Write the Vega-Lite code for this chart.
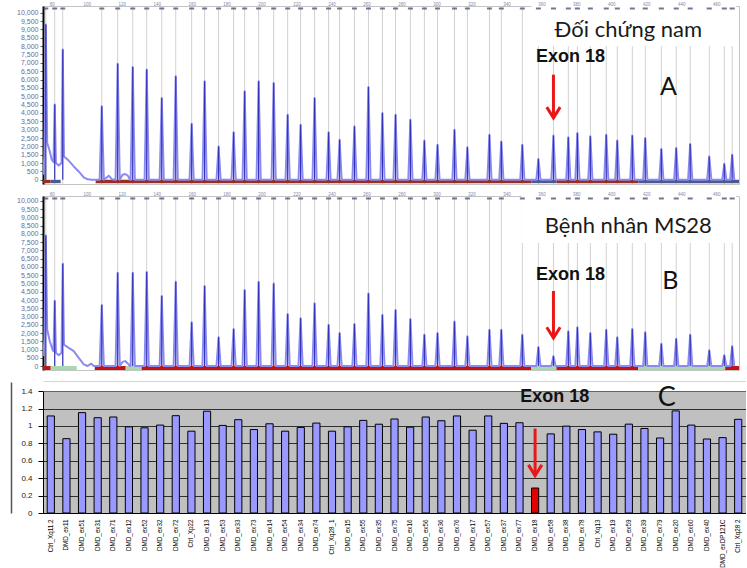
{
"$schema": "https://vega.github.io/schema/vega-lite/v6.json",
"padding": {"left": 11, "top": 0, "right": 0, "bottom": 0},
"bounds": "flush",
"spacing": 12,
"config": {"view": {"stroke": null}, "font": "Liberation Sans"},
"datasets": {
"tr": [
{"p":"A","x":75.2,"y":300},{"p":"A","x":75.8,"y":1500},{"p":"A","x":76.6,"y":9300,"k":"p"},{"p":"A","x":77.4,"y":2200},{"p":"A","x":78.9,"y":1700},{"p":"A","x":80.0,"y":1200},{"p":"A","x":81.0,"y":1050},{"p":"A","x":81.7,"y":4500,"k":"p"},{"p":"A","x":82.4,"y":1000},{"p":"A","x":84.0,"y":850},{"p":"A","x":85.6,"y":1000},{"p":"A","x":86.3,"y":7800,"k":"p"},{"p":"A","x":87.0,"y":1400},{"p":"A","x":89.7,"y":1150},{"p":"A","x":92.6,"y":800},{"p":"A","x":95.4,"y":500},{"p":"A","x":98.3,"y":150},{"p":"A","x":100.5,"y":30},{"p":"A","x":103,"y":0},
{"p":"A","x":107.4,"y":0},{"p":"A","x":108.6,"y":4400,"k":"p"},{"p":"A","x":109.8,"y":0},{"p":"A","x":112.6,"y":250},{"p":"A","x":114.5,"y":30},
{"p":"A","x":116.5,"y":0},{"p":"A","x":117.7,"y":6950,"k":"p"},{"p":"A","x":118.9,"y":0},{"p":"A","x":120.5,"y":300},{"p":"A","x":122,"y":350},{"p":"A","x":123.5,"y":250},{"p":"A","x":124.8,"y":0},
{"p":"A","x":125.1,"y":0},{"p":"A","x":126.3,"y":6750,"k":"p"},{"p":"A","x":127.5,"y":0},
{"p":"A","x":133.1,"y":0},{"p":"A","x":134.3,"y":6600,"k":"p"},{"p":"A","x":135.5,"y":0},
{"p":"A","x":141.7,"y":0},{"p":"A","x":142.9,"y":4900,"k":"p"},{"p":"A","x":144.1,"y":0},
{"p":"A","x":149.7,"y":0},{"p":"A","x":150.9,"y":6200,"k":"p"},{"p":"A","x":152.1,"y":0},
{"p":"A","x":158.8,"y":0},{"p":"A","x":160.0,"y":3350,"k":"p"},{"p":"A","x":161.2,"y":0},
{"p":"A","x":166.2,"y":0},{"p":"A","x":167.4,"y":5900,"k":"p"},{"p":"A","x":168.6,"y":0},
{"p":"A","x":174.2,"y":0},{"p":"A","x":175.4,"y":2000,"k":"p"},{"p":"A","x":176.6,"y":0},
{"p":"A","x":182.8,"y":0},{"p":"A","x":184.0,"y":2850,"k":"p"},{"p":"A","x":185.2,"y":0},
{"p":"A","x":189.1,"y":0},{"p":"A","x":190.3,"y":5300,"k":"p"},{"p":"A","x":191.5,"y":0},
{"p":"A","x":197.1,"y":0},{"p":"A","x":198.3,"y":5900,"k":"p"},{"p":"A","x":199.5,"y":0},
{"p":"A","x":205.7,"y":0},{"p":"A","x":206.9,"y":5800,"k":"p"},{"p":"A","x":208.1,"y":0},
{"p":"A","x":213.7,"y":0},{"p":"A","x":214.9,"y":3900,"k":"p"},{"p":"A","x":216.1,"y":0},
{"p":"A","x":221.1,"y":0},{"p":"A","x":222.3,"y":3300,"k":"p"},{"p":"A","x":223.5,"y":0},
{"p":"A","x":229.1,"y":0},{"p":"A","x":230.3,"y":4900,"k":"p"},{"p":"A","x":231.5,"y":0},
{"p":"A","x":237.1,"y":0},{"p":"A","x":238.3,"y":2850,"k":"p"},{"p":"A","x":239.5,"y":0},
{"p":"A","x":243.4,"y":0},{"p":"A","x":244.6,"y":2400,"k":"p"},{"p":"A","x":245.8,"y":0},
{"p":"A","x":251.9,"y":0},{"p":"A","x":253.1,"y":3200,"k":"p"},{"p":"A","x":254.3,"y":0},
{"p":"A","x":259.9,"y":0},{"p":"A","x":261.1,"y":5550,"k":"p"},{"p":"A","x":262.3,"y":0},
{"p":"A","x":267.9,"y":0},{"p":"A","x":269.1,"y":4000,"k":"p"},{"p":"A","x":270.3,"y":0},
{"p":"A","x":275.4,"y":0},{"p":"A","x":276.6,"y":3900,"k":"p"},{"p":"A","x":277.8,"y":0},
{"p":"A","x":283.9,"y":0},{"p":"A","x":285.1,"y":3600,"k":"p"},{"p":"A","x":286.3,"y":0},
{"p":"A","x":291.9,"y":0},{"p":"A","x":293.1,"y":2350,"k":"p"},{"p":"A","x":294.3,"y":0},
{"p":"A","x":299.4,"y":0},{"p":"A","x":300.6,"y":2100,"k":"p"},{"p":"A","x":301.8,"y":0},
{"p":"A","x":309.1,"y":0},{"p":"A","x":310.3,"y":3000,"k":"p"},{"p":"A","x":311.5,"y":0},
{"p":"A","x":316.5,"y":0},{"p":"A","x":317.7,"y":1950,"k":"p"},{"p":"A","x":318.9,"y":0},
{"p":"A","x":329.1,"y":0},{"p":"A","x":330.3,"y":2700,"k":"p"},{"p":"A","x":331.5,"y":0},
{"p":"A","x":335.9,"y":0},{"p":"A","x":337.1,"y":2300,"k":"p"},{"p":"A","x":338.3,"y":0},
{"p":"A","x":347.9,"y":0},{"p":"A","x":349.1,"y":2100,"k":"p"},{"p":"A","x":350.3,"y":0},
{"p":"A","x":357.1,"y":0},{"p":"A","x":358.3,"y":1250,"k":"p"},{"p":"A","x":359.5,"y":0},
{"p":"A","x":365.7,"y":0},{"p":"A","x":366.9,"y":2650,"k":"p"},{"p":"A","x":368.1,"y":0},
{"p":"A","x":374.2,"y":0},{"p":"A","x":375.4,"y":2550,"k":"p"},{"p":"A","x":376.6,"y":0},
{"p":"A","x":379.4,"y":0},{"p":"A","x":380.6,"y":2800,"k":"p"},{"p":"A","x":381.8,"y":0},
{"p":"A","x":386.8,"y":0},{"p":"A","x":388.0,"y":2600,"k":"p"},{"p":"A","x":389.2,"y":0},
{"p":"A","x":395.9,"y":0},{"p":"A","x":397.1,"y":2700,"k":"p"},{"p":"A","x":398.3,"y":0},
{"p":"A","x":402.2,"y":0},{"p":"A","x":403.4,"y":2350,"k":"p"},{"p":"A","x":404.6,"y":0},
{"p":"A","x":410.8,"y":0},{"p":"A","x":412.0,"y":2650,"k":"p"},{"p":"A","x":413.2,"y":0},
{"p":"A","x":418.2,"y":0},{"p":"A","x":419.4,"y":2500,"k":"p"},{"p":"A","x":420.6,"y":0},
{"p":"A","x":427.4,"y":0},{"p":"A","x":428.6,"y":1850,"k":"p"},{"p":"A","x":429.8,"y":0},
{"p":"A","x":435.9,"y":0},{"p":"A","x":437.1,"y":1900,"k":"p"},{"p":"A","x":438.3,"y":0},
{"p":"A","x":443.9,"y":0},{"p":"A","x":445.1,"y":2150,"k":"p"},{"p":"A","x":446.3,"y":0},
{"p":"A","x":454.8,"y":0},{"p":"A","x":456.0,"y":1400,"k":"p"},{"p":"A","x":457.2,"y":0},
{"p":"A","x":463.4,"y":0},{"p":"A","x":464.6,"y":960,"k":"p"},{"p":"A","x":465.8,"y":0},
{"p":"A","x":467.9,"y":0},{"p":"A","x":469.1,"y":1500,"k":"p"},{"p":"A","x":470.3,"y":0},
{"p":"B","x":75.2,"y":600},{"p":"B","x":75.8,"y":1600},{"p":"B","x":76.6,"y":7900,"k":"p"},{"p":"B","x":77.4,"y":2200},{"p":"B","x":78.9,"y":1500},{"p":"B","x":80.6,"y":950},{"p":"B","x":81.0,"y":900},{"p":"B","x":81.7,"y":3950,"k":"p"},{"p":"B","x":82.4,"y":800},{"p":"B","x":84.0,"y":650},{"p":"B","x":85.6,"y":800},{"p":"B","x":86.3,"y":6200,"k":"p"},{"p":"B","x":87.0,"y":1300},{"p":"B","x":89.7,"y":1100},{"p":"B","x":92.6,"y":900},{"p":"B","x":95.4,"y":500},{"p":"B","x":98.3,"y":100},{"p":"B","x":100.5,"y":0},{"p":"B","x":102.5,"y":150},{"p":"B","x":104,"y":0},
{"p":"B","x":107.4,"y":0},{"p":"B","x":108.6,"y":3700,"k":"p"},{"p":"B","x":109.8,"y":0},
{"p":"B","x":116.5,"y":0},{"p":"B","x":117.7,"y":5650,"k":"p"},{"p":"B","x":118.9,"y":0},{"p":"B","x":120.5,"y":250},{"p":"B","x":122,"y":300},{"p":"B","x":123.5,"y":150},{"p":"B","x":124.8,"y":0},
{"p":"B","x":125.1,"y":0},{"p":"B","x":126.3,"y":5650,"k":"p"},{"p":"B","x":127.5,"y":0},
{"p":"B","x":133.1,"y":0},{"p":"B","x":134.3,"y":5700,"k":"p"},{"p":"B","x":135.5,"y":0},
{"p":"B","x":141.7,"y":0},{"p":"B","x":142.9,"y":4250,"k":"p"},{"p":"B","x":144.1,"y":0},
{"p":"B","x":149.7,"y":0},{"p":"B","x":150.9,"y":5100,"k":"p"},{"p":"B","x":152.1,"y":0},
{"p":"B","x":158.8,"y":0},{"p":"B","x":160.0,"y":2650,"k":"p"},{"p":"B","x":161.2,"y":0},
{"p":"B","x":166.2,"y":0},{"p":"B","x":167.4,"y":4850,"k":"p"},{"p":"B","x":168.6,"y":0},
{"p":"B","x":174.2,"y":0},{"p":"B","x":175.4,"y":1750,"k":"p"},{"p":"B","x":176.6,"y":0},
{"p":"B","x":182.8,"y":0},{"p":"B","x":184.0,"y":2250,"k":"p"},{"p":"B","x":185.2,"y":0},
{"p":"B","x":189.1,"y":0},{"p":"B","x":190.3,"y":4600,"k":"p"},{"p":"B","x":191.5,"y":0},
{"p":"B","x":197.1,"y":0},{"p":"B","x":198.3,"y":5100,"k":"p"},{"p":"B","x":199.5,"y":0},
{"p":"B","x":205.7,"y":0},{"p":"B","x":206.9,"y":5000,"k":"p"},{"p":"B","x":208.1,"y":0},
{"p":"B","x":213.7,"y":0},{"p":"B","x":214.9,"y":3150,"k":"p"},{"p":"B","x":216.1,"y":0},
{"p":"B","x":221.1,"y":0},{"p":"B","x":222.3,"y":2900,"k":"p"},{"p":"B","x":223.5,"y":0},
{"p":"B","x":229.1,"y":0},{"p":"B","x":230.3,"y":3800,"k":"p"},{"p":"B","x":231.5,"y":0},
{"p":"B","x":237.1,"y":0},{"p":"B","x":238.3,"y":2500,"k":"p"},{"p":"B","x":239.5,"y":0},
{"p":"B","x":243.4,"y":0},{"p":"B","x":244.6,"y":2000,"k":"p"},{"p":"B","x":245.8,"y":0},
{"p":"B","x":251.9,"y":0},{"p":"B","x":253.1,"y":2550,"k":"p"},{"p":"B","x":254.3,"y":0},
{"p":"B","x":259.9,"y":0},{"p":"B","x":261.1,"y":4400,"k":"p"},{"p":"B","x":262.3,"y":0},
{"p":"B","x":267.9,"y":0},{"p":"B","x":269.1,"y":3100,"k":"p"},{"p":"B","x":270.3,"y":0},
{"p":"B","x":275.4,"y":0},{"p":"B","x":276.6,"y":3400,"k":"p"},{"p":"B","x":277.8,"y":0},
{"p":"B","x":283.9,"y":0},{"p":"B","x":285.1,"y":2850,"k":"p"},{"p":"B","x":286.3,"y":0},
{"p":"B","x":291.9,"y":0},{"p":"B","x":293.1,"y":1900,"k":"p"},{"p":"B","x":294.3,"y":0},
{"p":"B","x":299.4,"y":0},{"p":"B","x":300.6,"y":2000,"k":"p"},{"p":"B","x":301.8,"y":0},
{"p":"B","x":309.1,"y":0},{"p":"B","x":310.3,"y":2700,"k":"p"},{"p":"B","x":311.5,"y":0},
{"p":"B","x":316.5,"y":0},{"p":"B","x":317.7,"y":1800,"k":"p"},{"p":"B","x":318.9,"y":0},
{"p":"B","x":329.1,"y":0},{"p":"B","x":330.3,"y":2200,"k":"p"},{"p":"B","x":331.5,"y":0},
{"p":"B","x":335.9,"y":0},{"p":"B","x":337.1,"y":2200,"k":"p"},{"p":"B","x":338.3,"y":0},
{"p":"B","x":347.9,"y":0},{"p":"B","x":349.1,"y":1900,"k":"p"},{"p":"B","x":350.3,"y":0},
{"p":"B","x":357.1,"y":0},{"p":"B","x":358.3,"y":1150,"k":"p"},{"p":"B","x":359.5,"y":0},
{"p":"B","x":365.7,"y":0},{"p":"B","x":366.9,"y":600,"k":"p"},{"p":"B","x":368.1,"y":0},
{"p":"B","x":374.2,"y":0},{"p":"B","x":375.4,"y":2100,"k":"p"},{"p":"B","x":376.6,"y":0},
{"p":"B","x":379.4,"y":0},{"p":"B","x":380.6,"y":2350,"k":"p"},{"p":"B","x":381.8,"y":0},
{"p":"B","x":386.8,"y":0},{"p":"B","x":388.0,"y":2000,"k":"p"},{"p":"B","x":389.2,"y":0},
{"p":"B","x":395.9,"y":0},{"p":"B","x":397.1,"y":2200,"k":"p"},{"p":"B","x":398.3,"y":0},
{"p":"B","x":402.2,"y":0},{"p":"B","x":403.4,"y":1750,"k":"p"},{"p":"B","x":404.6,"y":0},
{"p":"B","x":410.8,"y":0},{"p":"B","x":412.0,"y":2250,"k":"p"},{"p":"B","x":413.2,"y":0},
{"p":"B","x":418.2,"y":0},{"p":"B","x":419.4,"y":2050,"k":"p"},{"p":"B","x":420.6,"y":0},
{"p":"B","x":427.4,"y":0},{"p":"B","x":428.6,"y":1350,"k":"p"},{"p":"B","x":429.8,"y":0},
{"p":"B","x":435.9,"y":0},{"p":"B","x":437.1,"y":1650,"k":"p"},{"p":"B","x":438.3,"y":0},
{"p":"B","x":443.9,"y":0},{"p":"B","x":445.1,"y":1900,"k":"p"},{"p":"B","x":446.3,"y":0},
{"p":"B","x":454.8,"y":0},{"p":"B","x":456.0,"y":950,"k":"p"},{"p":"B","x":457.2,"y":0},
{"p":"B","x":463.4,"y":0},{"p":"B","x":464.6,"y":650,"k":"p"},{"p":"B","x":465.8,"y":0},
{"p":"B","x":467.9,"y":0},{"p":"B","x":469.1,"y":1200,"k":"p"},{"p":"B","x":470.3,"y":0}
],
"band": [
{"p":"A","a":75,"b":79.4,"c":"ra"},{"p":"A","a":79.4,"b":85.1,"c":"ka"},{"p":"A","a":105.1,"b":354.3,"c":"ra"},{"p":"A","a":354.3,"b":368.6,"c":"ka"},{"p":"A","a":368.6,"b":415.4,"c":"ra"},{"p":"A","a":415.4,"b":473,"c":"ka"},
{"p":"B","a":75,"b":79.4,"c":"rb"},{"p":"B","a":79.4,"b":94.3,"c":"gb"},{"p":"B","a":104.6,"b":122.3,"c":"rb"},{"p":"B","a":122.3,"b":131.4,"c":"gb"},{"p":"B","a":131.4,"b":354.3,"c":"rb"},{"p":"B","a":354.3,"b":368.6,"c":"gb"},{"p":"B","a":368.6,"b":415.4,"c":"rb"},{"p":"B","a":415.4,"b":465.1,"c":"gb"},{"p":"B","a":465.1,"b":473,"c":"rb"}
],
"bars": [
{"n":"Ctrl_Xq11.2","v":1.115},{"n":"DMD_ex11","v":0.854},{"n":"DMD_ex51","v":1.153},{"n":"DMD_ex31","v":1.095},{"n":"DMD_ex71","v":1.103},
{"n":"DMD_ex12","v":0.99},{"n":"DMD_ex52","v":0.979},{"n":"DMD_ex32","v":1.01},{"n":"DMD_ex72","v":1.118},{"n":"Ctrl_Xp22","v":0.94},
{"n":"DMD_ex13","v":1.169},{"n":"DMD_ex53","v":1.006},{"n":"DMD_ex33","v":1.072},{"n":"DMD_ex73","v":0.959},{"n":"DMD_ex14","v":1.025},
{"n":"DMD_ex54","v":0.94},{"n":"DMD_ex34","v":0.983},{"n":"DMD_ex74","v":1.033},{"n":"Ctrl_Xq28_1","v":0.94},{"n":"DMD_ex15","v":0.99},
{"n":"DMD_ex55","v":1.064},{"n":"DMD_ex35","v":1.02},{"n":"DMD_ex75","v":1.08},{"n":"DMD_ex16","v":0.986},{"n":"DMD_ex56","v":1.103},
{"n":"DMD_ex36","v":1.06},{"n":"DMD_ex76","v":1.115},{"n":"DMD_ex17","v":0.951},{"n":"DMD_ex57","v":1.115},{"n":"DMD_ex37","v":1.03},
{"n":"DMD_ex77","v":1.037},{"n":"DMD_ex18","v":0.287},{"n":"DMD_ex58","v":0.909},{"n":"DMD_ex38","v":0.998},{"n":"DMD_ex78","v":0.959},
{"n":"Ctrl_Xq13","v":0.932},{"n":"DMD_ex19","v":0.905},{"n":"DMD_ex59","v":1.021},{"n":"DMD_ex39","v":0.971},{"n":"DMD_ex79","v":0.862},
{"n":"DMD_ex20","v":1.173},{"n":"DMD_ex60","v":1.01},{"n":"DMD_ex40","v":0.85},{"n":"DMD_exDP121C","v":0.866},{"n":"Ctrl_Xq28 2","v":1.076}
]
},
"vconcat": [
{
"width": 696, "height": 178,
"view": {"stroke": "#c4c4c4"},
"resolve": {"axis": {"x": "independent", "y": "independent"}},
"layer": [
{"data": {"name": "tr"}, "transform": [{"filter": "datum.p==='A' && datum.k==='p'"}],
 "mark": {"type": "rule", "color": "#d2d2d2", "strokeWidth": 1},
 "encoding": {"x": {"field": "x", "type": "quantitative", "scale": {"domain": [75, 473], "nice": false, "zero": false},
  "axis": {"orient": "top", "values": [80,100,120,140,160,180,200,220,240,260,280,300,320,340,360,380,400,420,440,460], "format": "d", "labelFontSize": 4.5, "labelColor": "#8888aa", "ticks": false, "domain": false, "labelPadding": 0, "grid": false, "title": null}}}},
{"data": {"values": [{}]}, "mark": {"type": "rect", "fill": "#ffffff"},
 "encoding": {"x": {"datum": 354.3, "scale": {"domain": [75, 473], "nice": false, "zero": false}, "axis": null}, "x2": {"datum": 471.4},
  "y": {"datum": 8000, "scale": {"domain": [-250, 10400], "nice": false, "zero": false}, "axis": null}, "y2": {"datum": 10400}}},
{"data": {"name": "band"}, "transform": [{"filter": "datum.p==='A'"}], "mark": {"type": "rect"},
 "encoding": {"x": {"field": "a", "type": "quantitative", "scale": {"domain": [75, 473], "nice": false, "zero": false}, "axis": null}, "x2": {"field": "b"},
  "y": {"datum": 0, "scale": {"domain": [-250, 10400], "nice": false, "zero": false}, "axis": null}, "y2": {"datum": -200},
  "color": {"field": "c", "type": "nominal", "scale": {"domain": ["ra","ka","rb","gb"], "range": ["#9a2d20","#4a5a8a","#c81010","#a8d8b0"]}, "legend": null}}},
{"data": {"name": "tr"}, "transform": [{"filter": "datum.p==='A'"}],
 "mark": {"type": "line", "color": "#8a8af0", "strokeWidth": 2, "strokeJoin": "round"},
 "encoding": {"x": {"field": "x", "type": "quantitative", "scale": {"domain": [75, 473], "nice": false, "zero": false}, "axis": null},
  "y": {"field": "y", "type": "quantitative", "scale": {"domain": [-250, 10400], "nice": false, "zero": false},
   "axis": {"orient": "left", "values": [0,500,1000,1500,2000,2500,3000,3500,4000,4500,5000,5500,6000,6500,7000,7500,8000,8500,9000,9500,10000], "format": ",d", "labelFontSize": 7, "labelColor": "#6a6a98", "tickSize": 3, "tickColor": "#666", "domainColor": "#000", "domainWidth": 2, "grid": false, "title": null, "labelPadding": 2}}}},
{"data": {"name": "tr"}, "transform": [{"filter": "datum.p==='A' && datum.k==='p'"}],
 "mark": {"type": "rule", "color": "#3434b8", "strokeWidth": 1.2},
 "encoding": {"x": {"field": "x", "type": "quantitative", "scale": {"domain": [75, 473], "nice": false, "zero": false}, "axis": null},
  "y": {"field": "y", "type": "quantitative", "scale": {"domain": [-250, 10400], "nice": false, "zero": false}, "axis": null}, "y2": {"datum": 0}}},
{"data": {"name": "tr"}, "transform": [{"filter": "datum.p==='A' && datum.k==='p'"}],
 "mark": {"type": "tick", "orient": "horizontal", "size": 5, "thickness": 2, "color": "#3c3c64"},
 "encoding": {"x": {"field": "x", "type": "quantitative", "scale": {"domain": [75, 473], "nice": false, "zero": false}, "axis": null},
  "y": {"datum": 10250, "scale": {"domain": [-250, 10400], "nice": false, "zero": false}, "axis": null}}},
{"data": {"values": [{}]}, "mark": {"type": "text", "text": "Đối chứng nam", "font": "Lato", "fontSize": 22, "color": "#1a1a1a", "align": "center", "baseline": "middle"},
 "encoding": {"x": {"datum": 409.7, "scale": {"domain": [75, 473], "nice": false, "zero": false}, "axis": null}, "y": {"datum": 8980, "scale": {"domain": [-250, 10400], "nice": false, "zero": false}, "axis": null}}},
{"data": {"values": [{}]}, "mark": {"type": "text", "text": "Exon 18", "font": "Liberation Sans", "fontWeight": "bold", "fontSize": 18, "color": "#111", "align": "center", "baseline": "middle"},
 "encoding": {"x": {"datum": 376.6, "scale": {"domain": [75, 473], "nice": false, "zero": false}, "axis": null}, "y": {"datum": 7365, "scale": {"domain": [-250, 10400], "nice": false, "zero": false}, "axis": null}}},
{"data": {"values": [{}]}, "mark": {"type": "text", "text": "A", "font": "Lato", "fontSize": 25, "color": "#111", "align": "center", "baseline": "middle"},
 "encoding": {"x": {"datum": 432.6, "scale": {"domain": [75, 473], "nice": false, "zero": false}, "axis": null}, "y": {"datum": 5570, "scale": {"domain": [-250, 10400], "nice": false, "zero": false}, "axis": null}}},
{"data": {"values": [{}]}, "mark": {"type": "rule", "color": "#e81818", "strokeWidth": 3},
 "encoding": {"x": {"datum": 366.9, "scale": {"domain": [75, 473], "nice": false, "zero": false}, "axis": null}, "y": {"datum": 6290, "scale": {"domain": [-250, 10400], "nice": false, "zero": false}, "axis": null}, "y2": {"datum": 3780}}},
{"data": {"values": [{}]}, "mark": {"type": "point", "shape": "M-1,-1.6L0,0L1,-1.6", "filled": false, "stroke": "#e81818", "strokeWidth": 3, "size": 180, "opacity": 1},
 "encoding": {"x": {"datum": 366.9, "scale": {"domain": [75, 473], "nice": false, "zero": false}, "axis": null}, "y": {"datum": 3710, "scale": {"domain": [-250, 10400], "nice": false, "zero": false}, "axis": null}}}
]
},
{
"width": 696, "height": 174,
"view": {"stroke": "#c4c4c4"},
"resolve": {"axis": {"x": "independent", "y": "independent"}},
"layer": [
{"data": {"name": "tr"}, "transform": [{"filter": "datum.p==='B' && datum.k==='p'"}],
 "mark": {"type": "rule", "color": "#d2d2d2", "strokeWidth": 1},
 "encoding": {"x": {"field": "x", "type": "quantitative", "scale": {"domain": [75, 473], "nice": false, "zero": false},
  "axis": {"orient": "top", "values": [80,100,120,140,160,180,200,220,240,260,280,300,320,340,360,380,400,420,440,460], "format": "d", "labelFontSize": 4.5, "labelColor": "#8888aa", "ticks": false, "domain": false, "labelPadding": 0, "grid": false, "title": null}}}},
{"data": {"values": [{}]}, "mark": {"type": "rect", "fill": "#ffffff"},
 "encoding": {"x": {"datum": 348.6, "scale": {"domain": [75, 473], "nice": false, "zero": false}, "axis": null}, "x2": {"datum": 471.4},
  "y": {"datum": 7450, "scale": {"domain": [-240, 10300], "nice": false, "zero": false}, "axis": null}, "y2": {"datum": 10300}}},
{"data": {"name": "band"}, "transform": [{"filter": "datum.p==='B'"}], "mark": {"type": "rect"},
 "encoding": {"x": {"field": "a", "type": "quantitative", "scale": {"domain": [75, 473], "nice": false, "zero": false}, "axis": null}, "x2": {"field": "b"},
  "y": {"datum": 0, "scale": {"domain": [-240, 10300], "nice": false, "zero": false}, "axis": null}, "y2": {"datum": -240},
  "color": {"field": "c", "type": "nominal", "scale": {"domain": ["ra","ka","rb","gb"], "range": ["#9a2d20","#4a5a8a","#c81010","#a8d8b0"]}, "legend": null}}},
{"data": {"name": "tr"}, "transform": [{"filter": "datum.p==='B'"}],
 "mark": {"type": "line", "color": "#8a8af0", "strokeWidth": 2, "strokeJoin": "round"},
 "encoding": {"x": {"field": "x", "type": "quantitative", "scale": {"domain": [75, 473], "nice": false, "zero": false}, "axis": null},
  "y": {"field": "y", "type": "quantitative", "scale": {"domain": [-240, 10300], "nice": false, "zero": false},
   "axis": {"orient": "left", "values": [0,500,1000,1500,2000,2500,3000,3500,4000,4500,5000,5500,6000,6500,7000,7500,8000,8500,9000,9500,10000], "format": ",d", "labelFontSize": 7, "labelColor": "#6a6a98", "tickSize": 3, "tickColor": "#666", "domainColor": "#000", "domainWidth": 2, "grid": false, "title": null, "labelPadding": 2}}}},
{"data": {"name": "tr"}, "transform": [{"filter": "datum.p==='B' && datum.k==='p'"}],
 "mark": {"type": "rule", "color": "#3434b8", "strokeWidth": 1.2},
 "encoding": {"x": {"field": "x", "type": "quantitative", "scale": {"domain": [75, 473], "nice": false, "zero": false}, "axis": null},
  "y": {"field": "y", "type": "quantitative", "scale": {"domain": [-240, 10300], "nice": false, "zero": false}, "axis": null}, "y2": {"datum": 0}}},
{"data": {"name": "tr"}, "transform": [{"filter": "datum.p==='B' && datum.k==='p'"}],
 "mark": {"type": "tick", "orient": "horizontal", "size": 5, "thickness": 2, "color": "#3c3c64"},
 "encoding": {"x": {"field": "x", "type": "quantitative", "scale": {"domain": [75, 473], "nice": false, "zero": false}, "axis": null},
  "y": {"datum": 10150, "scale": {"domain": [-240, 10300], "nice": false, "zero": false}, "axis": null}}},
{"data": {"values": [{}]}, "mark": {"type": "text", "text": "Bệnh nhân MS28", "font": "Lato", "fontSize": 22, "color": "#1a1a1a", "align": "center", "baseline": "middle"},
 "encoding": {"x": {"datum": 409.7, "scale": {"domain": [75, 473], "nice": false, "zero": false}, "axis": null}, "y": {"datum": 8480, "scale": {"domain": [-240, 10300], "nice": false, "zero": false}, "axis": null}}},
{"data": {"values": [{}]}, "mark": {"type": "text", "text": "Exon 18", "font": "Liberation Sans", "fontWeight": "bold", "fontSize": 18, "color": "#111", "align": "center", "baseline": "middle"},
 "encoding": {"x": {"datum": 376.6, "scale": {"domain": [75, 473], "nice": false, "zero": false}, "axis": null}, "y": {"datum": 5515, "scale": {"domain": [-240, 10300], "nice": false, "zero": false}, "axis": null}}},
{"data": {"values": [{}]}, "mark": {"type": "text", "text": "B", "font": "Lato", "fontSize": 25, "color": "#111", "align": "center", "baseline": "middle"},
 "encoding": {"x": {"datum": 433.7, "scale": {"domain": [75, 473], "nice": false, "zero": false}, "axis": null}, "y": {"datum": 5150, "scale": {"domain": [-240, 10300], "nice": false, "zero": false}, "axis": null}}},
{"data": {"values": [{}]}, "mark": {"type": "rule", "color": "#e81818", "strokeWidth": 3},
 "encoding": {"x": {"datum": 366.9, "scale": {"domain": [75, 473], "nice": false, "zero": false}, "axis": null}, "y": {"datum": 4545, "scale": {"domain": [-240, 10300], "nice": false, "zero": false}, "axis": null}, "y2": {"datum": 1770}}},
{"data": {"values": [{}]}, "mark": {"type": "point", "shape": "M-1,-1.6L0,0L1,-1.6", "filled": false, "stroke": "#e81818", "strokeWidth": 3, "size": 180, "opacity": 1},
 "encoding": {"x": {"datum": 366.9, "scale": {"domain": [75, 473], "nice": false, "zero": false}, "axis": null}, "y": {"datum": 1700, "scale": {"domain": [-240, 10300], "nice": false, "zero": false}, "axis": null}}}
]
},
{
"width": 703, "height": 131,
"view": {"fill": "#c0c0c0", "stroke": null},
"data": {"name": "bars"},
"resolve": {"axis": {"x": "independent", "y": "independent"}},
"layer": [
{"data": {"values": [{}]}, "mark": {"type": "rect", "fill": "#ffffff"},
 "encoding": {"y": {"datum": 1.4, "scale": {"domain": [0, 1.505], "nice": false}, "axis": {"orient": "left", "offset": 32, "labels": false, "ticks": false, "grid": false, "domainColor": "#555", "domainWidth": 1.5, "title": null}}, "y2": {"datum": 1.505}}},
{"mark": {"type": "bar", "stroke": "#000000", "strokeWidth": 1},
 "encoding": {
  "x": {"field": "n", "type": "nominal", "sort": null, "scale": {"paddingInner": 0.54, "paddingOuter": 0.27},
   "axis": {"orient": "bottom", "labelAngle": -90, "labelFontSize": 6.3, "labelFont": "Liberation Sans", "labelColor": "#000", "ticks": false, "domainColor": "#000", "labelPadding": 6, "title": null, "grid": false}},
  "y": {"field": "v", "type": "quantitative", "scale": {"domain": [0, 1.505], "nice": false},
   "axis": {"orient": "left", "values": [0, 0.2, 0.4, 0.6, 0.8, 1, 1.2, 1.4], "format": "~g", "grid": true, "gridColor": "#303030", "gridWidth": 1, "labelFontSize": 8, "labelColor": "#222", "tickSize": 5, "tickColor": "#000", "domainColor": "#000", "labelPadding": 6, "title": null}},
  "color": {"condition": {"test": "datum.n === 'DMD_ex18'", "value": "#e00000"}, "value": "#9999ff"}}},
{"mark": {"type": "tick", "opacity": 0},
 "encoding": {"x": {"field": "n", "type": "nominal", "sort": null, "axis": {"orient": "top", "labels": false, "ticks": false, "grid": false, "domainColor": "#555", "domainWidth": 1.5, "title": null}}}},
{"transform": [{"filter": "datum.n === 'DMD_ex58'"}],
 "mark": {"type": "text", "text": "Exon 18", "font": "Liberation Sans", "fontWeight": "bold", "fontSize": 18, "color": "#111", "dx": 4, "align": "center", "baseline": "middle"},
 "encoding": {"x": {"field": "n", "type": "nominal", "sort": null, "axis": null}, "y": {"datum": 1.33, "axis": null}}},
{"transform": [{"filter": "datum.n === 'DMD_ex20'"}],
 "mark": {"type": "text", "text": "C", "font": "Lato", "fontSize": 27, "color": "#111", "dx": -9, "align": "center", "baseline": "middle"},
 "encoding": {"x": {"field": "n", "type": "nominal", "sort": null, "axis": null}, "y": {"datum": 1.32, "axis": null}}},
{"transform": [{"filter": "datum.n === 'DMD_ex18'"}],
 "mark": {"type": "rule", "color": "#e81818", "strokeWidth": 3},
 "encoding": {"x": {"field": "n", "type": "nominal", "sort": null, "axis": null}, "y": {"datum": 0.97, "axis": null}, "y2": {"datum": 0.445}}},
{"transform": [{"filter": "datum.n === 'DMD_ex18'"}],
 "mark": {"type": "point", "shape": "M-1,-1.6L0,0L1,-1.6", "filled": false, "stroke": "#e81818", "strokeWidth": 3, "size": 180, "opacity": 1},
 "encoding": {"x": {"field": "n", "type": "nominal", "sort": null, "axis": null}, "y": {"datum": 0.43, "axis": null}}}
]
}
]
}
